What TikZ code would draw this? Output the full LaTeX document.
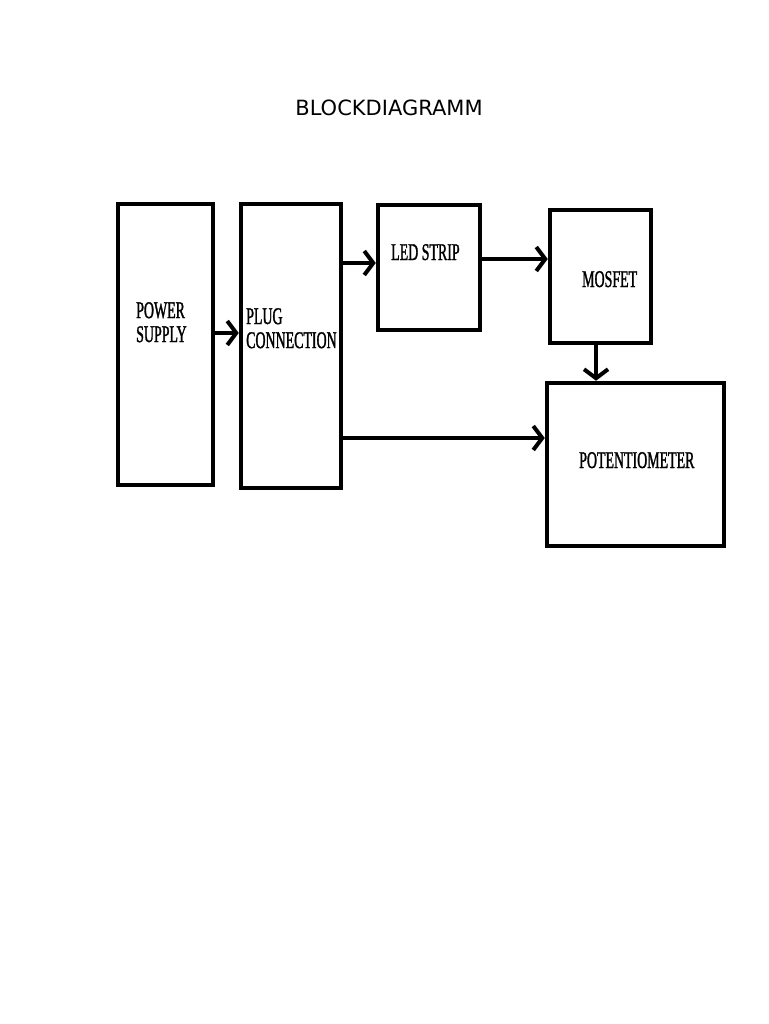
\documentclass[tikz,border=0pt]{standalone}
\usepackage{fontspec}
\usepackage{tikz}
\usetikzlibrary{arrows.meta, calc, positioning}
\newfontfamily\boxfont[FakeStretch=0.58, FakeBold=1.2]{Liberation Serif}
\newfontfamily\titlefont{DejaVu Sans}

\begin{document}
\begin{tikzpicture}[x=1pt, y=-1pt,
    block/.style={draw, line width=4.5pt, inner sep=0pt},
    lbl/.style={inner sep=0pt, font=\boxfont\fontsize{24}{24}\selectfont, align=left},
    arr/.style={line width=4.5pt, -{Straight Barb[length=9pt, width=24pt, line width=4pt]}}]
    \useasboundingbox (0,0) rectangle (768,1024);

    % Titel
    \node[anchor=base, font=\titlefont\fontsize{21}{21}\selectfont] (title) at (389,116) {BLOCKDIAGRAMM};

    % Bloecke
    \node[block, minimum width=95pt, minimum height=281pt] (ps) at (165.5,344.5) {};
    \node[block, minimum width=100pt, minimum height=284pt] (plug) at (291,346) {};
    \node[block, minimum width=102pt, minimum height=125pt] (led) at (429,267.5) {};
    \node[block, minimum width=101pt, minimum height=133pt] (mosfet) at (600.5,276.5) {};
    \node[block, minimum width=177pt, minimum height=163pt] (poti) at (635.5,464.5) {};

    % Beschriftungen
    \node[lbl, anchor=north west] (psText) at (136,302) {POWER\\[0pt]SUPPLY};
    \node[lbl, anchor=north west] (plugText) at (246,308) {PLUG\\[0pt]CONNECTION};
    \node[lbl, anchor=base west] (ledText) at (391,260) {LED STRIP};
    \node[lbl, anchor=base west] (mosfetText) at (582,287) {MOSFET};
    \node[lbl, anchor=base west] (potiText) at (579,468) {POTENTIOMETER};

    % Verbindungen
    \draw[arr] (ps.east |- {(0,333)}) -- (plug.west |- {(0,333)});
    \draw[arr] (plug.east |- {(0,263)}) -- (led.west |- {(0,263)});
    \draw[arr] (led.east |- {(0,259)}) -- (mosfet.west |- {(0,259)});
    \draw[arr] (mosfet.south -| {(596,0)}) -- (poti.north -| {(596,0)});
    \draw[arr] (plug.east |- {(0,438)}) -- (poti.west |- {(0,438)});
\end{tikzpicture}
\end{document}
